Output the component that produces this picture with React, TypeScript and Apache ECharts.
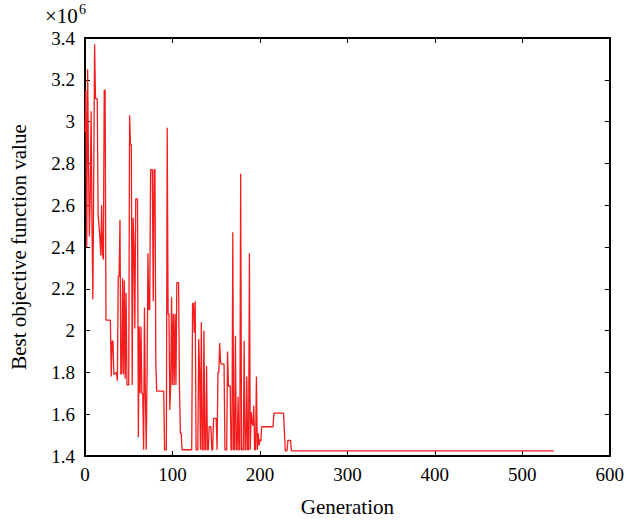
import React, { useEffect, useRef } from "react";
import * as echarts from "echarts";

// Generation index of each recorded point
const generations: number[] = [
  0, 1, 2, 3, 4, 5, 6, 7, 8, 9, 10, 11, 12, 14, 15, 16, 17, 18, 19, 20,
  21, 22, 23, 24, 29, 30, 31, 32, 33, 36, 37, 38, 39, 40, 41, 42, 43, 44, 45, 46,
  47, 48, 50, 51, 52, 53, 54, 55, 56, 57, 58, 60, 61, 62, 63, 64, 65, 66, 67, 68,
  69, 70, 71, 72, 73, 74, 75, 77, 78, 79, 80, 81, 82, 90, 91, 93, 94, 95, 96, 97,
  98, 99, 100, 101, 102, 103, 104, 105, 107, 108, 109, 110, 111, 122, 123, 124, 125, 126, 127, 129,
  130, 131, 132, 133, 134, 135, 136, 137, 138, 139, 140, 141, 142, 144, 145, 146, 147, 150, 151, 152,
  153, 154, 155, 156, 159, 160, 161, 162, 163, 164, 166, 167, 168, 169, 170, 171, 172, 173, 174, 175,
  176, 177, 178, 179, 180, 181, 182, 183, 184, 185, 186, 187, 188, 189, 190, 191, 192, 193, 194, 195,
  196, 197, 198, 199, 200, 201, 202, 215, 216, 227, 229, 231, 232, 235, 236, 536,
];

// Best objective function value (x10^6) at each generation above
const bestValues: number[] = [
  2.95, 3.15, 2.4, 3.25, 2.8, 2.45, 2.65, 3.05, 2.5, 2.15, 2.75, 3.37, 3.11, 3.11, 2.55, 2.5, 2.45, 2.36, 2.6, 2.36,
  2.34, 3.15, 3.15, 2.05, 2.05, 1.78, 1.95, 1.95, 1.79, 1.8, 1.76, 2.26, 2.26, 2.53, 1.79, 1.8, 2.25, 1.79, 2.24, 1.77,
  2.18, 1.74, 1.74, 3.03, 2.89, 2.89, 1.74, 2.54, 2.4, 2.01, 2.63, 2.63, 1.49, 2.02, 1.7, 2.02, 1.7, 1.7, 1.43, 2.11,
  1.7, 1.43, 1.8, 2.37, 2.1, 2.1, 2.77, 2.77, 2.14, 2.77, 2.77, 1.84, 1.71, 1.71, 1.43, 1.43, 2.97, 2.08, 2.08, 1.62,
  1.74, 2.16, 1.74, 2.08, 1.74, 2.08, 1.74, 2.23, 2.23, 1.74, 1.51, 1.51, 1.43, 1.43, 2.13, 2.13, 1.99, 2.14, 1.43, 1.43,
  1.96, 1.81, 1.43, 2.04, 1.43, 1.43, 2.0, 1.43, 1.43, 1.83, 1.43, 1.43, 1.54, 1.54, 1.43, 1.43, 1.58, 1.58, 1.43, 1.8,
  1.8, 1.94, 1.85, 1.84, 1.84, 1.43, 1.43, 1.43, 1.9, 1.735, 1.735, 1.43, 1.43, 2.47, 1.43, 1.43, 1.975, 1.43, 1.43, 1.685,
  1.43, 1.43, 2.75, 1.43, 1.43, 1.43, 1.95, 1.43, 1.43, 1.78, 1.43, 1.43, 2.37, 1.43, 1.61, 1.56, 1.545, 1.64, 1.43, 1.43,
  1.78, 1.43, 1.51, 1.45, 1.48, 1.47, 1.54, 1.54, 1.605, 1.605, 1.425, 1.425, 1.475, 1.475, 1.425, 1.425,
];

const FONT = "'Liberation Serif', 'Times New Roman', serif";

export default function App() {
  const ref = useRef<HTMLDivElement>(null);

  useEffect(() => {
    if (!ref.current) return;
    const chart = echarts.init(ref.current, null, { renderer: "svg" });
    const data = generations.map((g, i) => [g, bestValues[i]]);

    const axisLine = { show: true, onZero: false, lineStyle: { color: "#000", width: 2 } };
    const axisTick = { show: true, inside: true, length: 5, lineStyle: { color: "#000", width: 1 } };
    const labelStyle = { fontFamily: FONT, fontSize: 19, color: "#000" };

    chart.setOption({
      animation: false,
      backgroundColor: "#fff",
      grid: { left: 82, right: 15, top: 38, bottom: 67, containLabel: false },
      xAxis: [
        {
          type: "value",
          min: 0,
          max: 600,
          interval: 100,
          position: "bottom",
          axisLine,
          axisTick,
          splitLine: { show: false },
          axisLabel: { ...labelStyle, margin: 9 },
          name: "Generation",
          nameLocation: "middle",
          nameGap: 40,
          nameTextStyle: { fontFamily: FONT, fontSize: 21, color: "#000" },
        },
        {
          type: "value",
          min: 0,
          max: 600,
          interval: 100,
          position: "top",
          axisLine,
          axisTick,
          splitLine: { show: false },
          axisLabel: { show: false },
        },
      ],
      yAxis: [
        {
          type: "value",
          min: 1.4,
          max: 3.4,
          interval: 0.2,
          position: "left",
          axisLine,
          axisTick,
          splitLine: { show: false },
          axisLabel: {
            ...labelStyle,
            margin: 10,
            formatter: (v: number) => String(+v.toFixed(1)),
          },
          name: "Best objective function value",
          nameLocation: "middle",
          nameGap: 56,
          nameTextStyle: { fontFamily: FONT, fontSize: 21, color: "#000" },
        },
        {
          type: "value",
          min: 1.4,
          max: 3.4,
          interval: 0.2,
          position: "right",
          axisLine,
          axisTick,
          splitLine: { show: false },
          axisLabel: { show: false },
        },
      ],
      graphic: [
        {
          type: "text",
          left: 45,
          top: 5,
          style: { text: "×10", fontFamily: FONT, fontSize: 21, fill: "#000" },
        },
        {
          type: "text",
          left: 79,
          top: 2,
          style: { text: "6", fontFamily: FONT, fontSize: 14, fill: "#000" },
        },
      ],
      series: [
        {
          type: "line",
          xAxisIndex: 0,
          yAxisIndex: 0,
          data,
          showSymbol: false,
          symbol: "none",
          lineStyle: { color: "#f41c1c", width: 1.3 },
        },
      ],
    });

    return () => chart.dispose();
  }, []);

  return (
    <div
      ref={ref}
      style={{ position: "absolute", left: 0, top: 0, width: 627, height: 523 }}
    />
  );
}
